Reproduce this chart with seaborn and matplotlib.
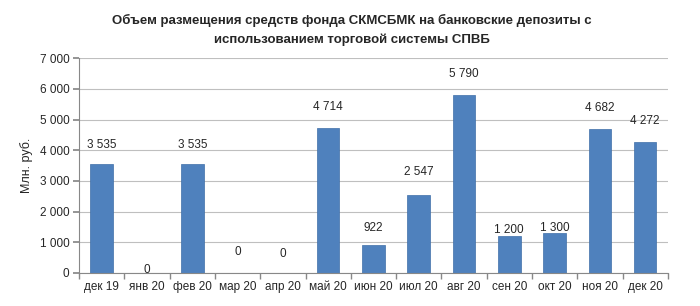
import matplotlib
matplotlib.use("Agg")
import matplotlib.pyplot as plt
import seaborn as sns
import pandas as pd
import numpy as np

months = ["дек 19", "янв 20", "фев 20", "мар 20", "апр 20", "май 20", "июн 20",
          "июл 20", "авг 20", "сен 20", "окт 20", "ноя 20", "дек 20"]
values = [3535, 0, 3535, 0, 0, 4714, 922, 2547, 5790, 1200, 1300, 4682, 4272]
yticks = [0, 1000, 2000, 3000, 4000, 5000, 6000, 7000]

# label offsets (points above bar top) — styling only
label_offsets = [10, -2, 10, 11, 9, 11, 8, 12, 11, 0, -1, 11, 11]

sns.set_theme(style="white")
plt.rcParams['font.family'] = ['Liberation Sans', 'DejaVu Sans']

df = pd.DataFrame({"month": months, "value": values})

fig = plt.figure(figsize=(7.0, 3.06), dpi=100)
ax = fig.add_axes([0.113, 0.108, 0.841, 0.702])

sns.barplot(data=df, x="month", y="value", color="#4F81BD", width=0.5,
            saturation=1, ax=ax, edgecolor="#3f6fa8", linewidth=0.5)

ax.set_ylim(0, 7000)
ax.set_xlim(-0.5, len(months) - 0.5)
ax.set_yticks(yticks)
ax.set_yticklabels([f"{v:,}".replace(",", " ") for v in yticks], fontsize=8.5)
ax.yaxis.grid(True, color="#bfbfbf", linewidth=0.8)
ax.set_axisbelow(True)
ax.set_xlabel("")
ax.set_ylabel("Млн. руб.", fontsize=9, labelpad=5)
ax.tick_params(axis="x", labelsize=8.5, length=0, pad=6)
ax.tick_params(axis="y", length=4, color="#888888", direction="out", pad=3, left=True)
ax.set_xticks(np.arange(len(months)))
ax.set_xticks(np.arange(-0.5, len(months)), minor=True)
ax.tick_params(axis="x", which="minor", length=4, color="#888888", bottom=True)

for s in ["top", "right"]:
    ax.spines[s].set_visible(False)
for s in ["left", "bottom"]:
    ax.spines[s].set_color("#888888")
    ax.spines[s].set_linewidth(0.8)

for i, (v, off) in enumerate(zip(values, label_offsets)):
    ax.annotate(f"{v:,}".replace(",", " "), (i, v), xytext=(0, off),
                textcoords="offset points", ha="center", va="bottom", fontsize=8.5)

fig.text(0.503, 0.902, "Объем размещения средств фонда СКМСБМК на банковские депозиты с\nиспользованием торговой системы СПВБ",
         ha="center", va="center", fontsize=9.5, fontweight="bold", linespacing=1.75)

fig.savefig("out.png", dpi=100)
